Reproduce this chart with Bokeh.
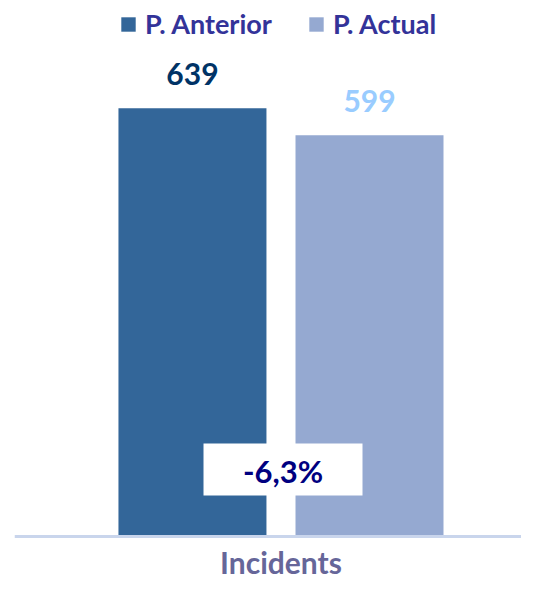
from bokeh.plotting import figure
from bokeh.models import FactorRange, Range1d, Legend, LegendItem, ColumnDataSource
from bokeh.transform import dodge
from bokeh.core.properties import value
from bokeh.embed import file_html
from bokeh.resources import INLINE

# ---- data ----
category = "Incidents"
series = ["P. Anterior", "P. Actual"]
values = [639, 599]

# ---- styles ----
bar_colors = ["#336699", "#95A9D1"]
label_colors = ["#003366", "#99CCFF"]
FONT = "Lato"
CENTER = 0.0256            # shift of the category centre inside the frame
offsets = [CENTER - 0.1746, CENTER + 0.1746]
BAR_W = 0.2919

change = (values[1] - values[0]) / values[0] * 100
change_text = f"{change:.1f}%".replace(".", ",")

p = figure(width=521, height=581,
           x_range=FactorRange(category), y_range=Range1d(-67.2, 800),
           output_backend="svg", toolbar_location=None,
           min_border_left=14, min_border_right=0, min_border_top=0, min_border_bottom=0)

items = []
for name, v, c, lc, off in zip(series, values, bar_colors, label_colors, offsets):
    src = ColumnDataSource(dict(x=[category], top=[v], label=[str(v)]))
    xd = dodge("x", off, range=p.x_range)
    r = p.vbar(x=xd, top="top", bottom=0, width=BAR_W, source=src, fill_color=c, line_color=None)
    p.text(x=xd, y="top", text="label", source=src, text_font=value(FONT),
           text_font_style="bold", text_font_size="30px", text_color=lc,
           text_align="center", text_baseline="alphabetic", y_offset=-34)
    items.append(LegendItem(label=name, renderers=[r]))

# change box
box_src = ColumnDataSource(dict(x=[category], y=[100], t=[change_text]))
bx = dodge("x", CENTER + 0.004, range=p.x_range)
p.rect(x=bx, y="y", width=159, height=52, width_units="screen", height_units="screen",
       source=box_src, fill_color="white", line_color=None)
p.text(x=bx, y="y", text="t", source=box_src, text_font=value(FONT), text_font_style="bold",
       text_font_size="31px", text_color="#000080", text_align="center",
       text_baseline="alphabetic", y_offset=2)

# category label
cat_src = ColumnDataSource(dict(x=[category], y=[0], t=[category]))
p.text(x=dodge("x", CENTER, range=p.x_range), y="y", text="t", source=cat_src,
       text_font=value(FONT), text_font_style="bold", text_font_size="30px",
       text_color="#666699", text_align="center", text_baseline="alphabetic", y_offset=26)

legend = Legend(items=items, orientation="horizontal", location=(105, 541),
                glyph_width=18, glyph_height=18, label_standoff=8, spacing=35,
                padding=0, margin=0, label_height=30,
                label_text_font=FONT, label_text_font_style="bold",
                label_text_font_size="27px", label_text_color="#333399",
                border_line_color=None, background_fill_alpha=0)
p.add_layout(legend)

p.yaxis.visible = False
p.xgrid.visible = False
p.ygrid.visible = False
p.outline_line_color = None
ax = p.xaxis[0]
ax.fixed_location = 0
ax.axis_line_color = "#C9D5EC"
ax.axis_line_width = 3
ax.major_tick_line_color = None
ax.major_tick_out = 0
ax.major_tick_in = 0
ax.minor_tick_line_color = None
ax.major_label_text_color = None

open("out.html", "w").write(file_html(p, INLINE))
